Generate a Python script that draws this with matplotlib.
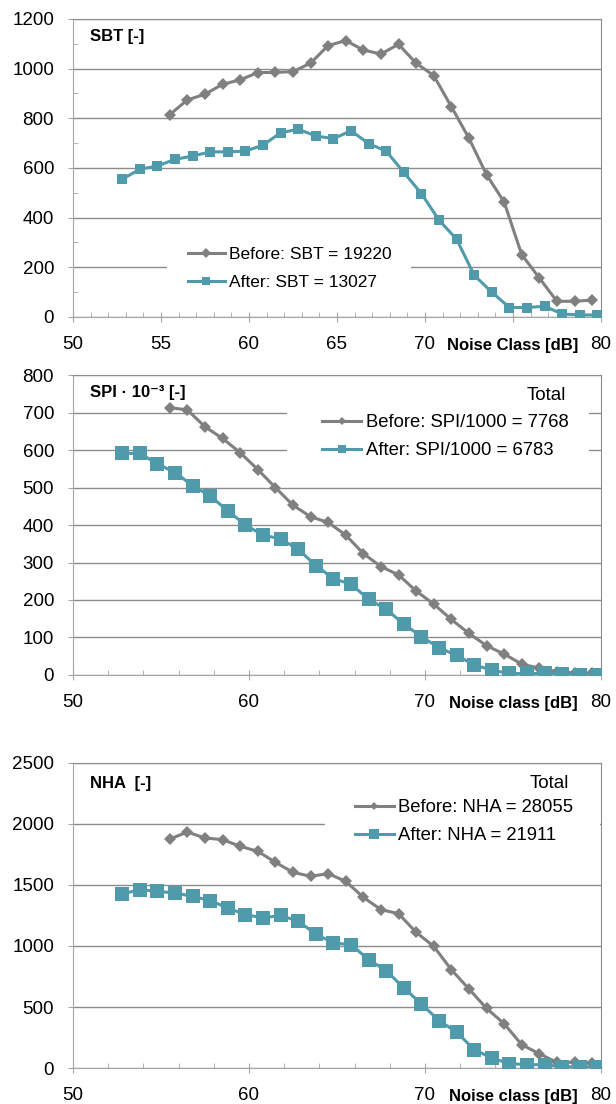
import matplotlib
matplotlib.use("Agg")
import matplotlib.pyplot as plt
from matplotlib.patches import Rectangle
from matplotlib.ticker import MultipleLocator

plt.rcParams["font.family"] = ["Liberation Sans", "DejaVu Sans"]

# -----------------------------------------------------------------------
# Data
# -----------------------------------------------------------------------
x_before = [55.5, 56.5, 57.5, 58.5, 59.5, 60.5, 61.5, 62.5, 63.5, 64.5,
            65.5, 66.5, 67.5, 68.5, 69.5, 70.5, 71.5, 72.5, 73.5, 74.5,
            75.5, 76.5, 77.5, 78.5, 79.5]
x_after = [52.8, 53.8, 54.8, 55.8, 56.8, 57.8, 58.8, 59.8, 60.8, 61.8,
           62.8, 63.8, 64.8, 65.8, 66.8, 67.8, 68.8, 69.8, 70.8, 71.8,
           72.8, 73.8, 74.8, 75.8, 76.8, 77.8, 78.8, 79.8]

sbt_before = [815, 874, 897, 937, 955, 984, 985, 988, 1022, 1093, 1113, 1075,
              1059, 1098, 1022, 972, 847, 720, 573, 463, 251, 157, 63, 63, 68]
sbt_after = [555, 595, 608, 635, 648, 665, 665, 668, 692, 742, 756, 729, 718,
             750, 698, 668, 582, 497, 390, 313, 168, 100, 38, 38, 43, 12, 8, 8]

spi_before = [713, 707, 662, 631, 593, 548, 500, 453, 422, 407, 373, 324, 289,
              267, 224, 189, 148, 111, 78, 56, 29, 18, 9, 6, 4]
spi_after = [591, 591, 563, 540, 505, 477, 438, 400, 373, 363, 335, 292, 257,
             242, 202, 175, 136, 102, 73, 52, 27, 13, 4, 4, 4, 3, 1, 1]

nha_before = [1877, 1934, 1885, 1872, 1817, 1776, 1686, 1604, 1571, 1593, 1530,
              1399, 1298, 1265, 1112, 997, 806, 648, 489, 363, 191, 117, 46, 46, 41]
nha_after = [1426, 1462, 1448, 1434, 1407, 1372, 1311, 1257, 1230, 1251, 1202,
             1098, 1025, 1011, 888, 798, 656, 525, 388, 295, 150, 82, 36, 27,
             27, 10, 10, 10]

BEFORE_C = "#808080"
AFTER_C = "#4f9bab"
GRID_C = "#8c8c8c"
AXIS_C = "#a6a6a6"


def style_axes(ax, ymax, ystep, xmajor, xminor, yminor=None, xlabel="Noise class [dB]"):
    ax.set_xlim(50, 80)
    ax.set_ylim(0, ymax)
    ax.yaxis.set_major_locator(MultipleLocator(ystep))
    ax.xaxis.set_major_locator(MultipleLocator(xmajor))
    ax.xaxis.set_minor_locator(MultipleLocator(xminor))
    if yminor:
        ax.yaxis.set_minor_locator(MultipleLocator(yminor))
    ax.grid(axis="y", which="major", color=GRID_C, linewidth=1.0)
    ax.set_axisbelow(True)
    for side in ("left", "bottom"):
        ax.spines[side].set_color(AXIS_C)
    for side in ("top", "right"):
        ax.spines[side].set_color(GRID_C)
    ax.tick_params(axis="x", which="major", direction="inout", length=7,
                   color=AXIS_C, labelsize=13.5, pad=10.5)
    ax.tick_params(axis="x", which="minor", direction="in", length=3.6,
                   color=AXIS_C)
    ax.tick_params(axis="y", which="major", direction="out", length=3.6,
                   color=AXIS_C, labelsize=13.5, pad=10)
    ax.tick_params(axis="y", which="minor", direction="in", length=3.6,
                   color=AXIS_C)
    # the 75 position carries the axis title instead of a number
    ticks = list(ax.get_xticks())
    labels = ["" if abs(t - 75) < 0.01 else f"{t:.0f}" for t in ticks]
    ax.set_xticks(ticks)
    ax.set_xticklabels(labels)
    ax.set_xlim(50, 80)
    ax.annotate(xlabel, xy=(75, 0), xycoords=("data", "axes fraction"),
                xytext=(0, -24), textcoords="offset points",
                ha="center", va="baseline", fontsize=12, fontweight="bold")


def plot_panel(ax, yb, ya, lab_b, lab_a, ms_d, ms_s):
    ax.plot(x_before, yb, "-", color=BEFORE_C, linewidth=2.2, marker="D",
            markersize=ms_d, markeredgewidth=0, label=lab_b, zorder=3)
    ax.plot(x_after, ya, "-", color=AFTER_C, linewidth=2.2, marker="s",
            markersize=ms_s, markeredgewidth=0, label=lab_a, zorder=3)


def legend_box(ax, x0, y0, x1, y1):
    # white legend area that hides the gridlines behind it
    ax.add_patch(Rectangle((x0, y0), x1 - x0, y1 - y0, transform=ax.transAxes,
                           facecolor="white", edgecolor="none", zorder=1))


def add_legend(ax, anchor, size, spacing, mscale):
    ax.legend(loc="center left", bbox_to_anchor=anchor, fontsize=size,
              frameon=False, handlelength=2.1, handletextpad=0.25,
              labelspacing=spacing, borderpad=0, borderaxespad=0,
              markerscale=mscale)


fig = plt.figure(figsize=(6.16, 11.04), dpi=100)

# --- SBT ---
ax1 = fig.add_axes([0.1185, 0.7129, 0.857, 0.2699])
plot_panel(ax1, sbt_before, sbt_after, "Before: SBT = 19220",
           "After: SBT = 13027", 6.5, 6.8)
style_axes(ax1, 1200, 200, 5, 1, yminor=100, xlabel="Noise Class [dB]")
ax1.text(0.032, 0.94, "SBT [-]", transform=ax1.transAxes, fontsize=12,
         fontweight="bold", va="center", ha="left")
legend_box(ax1, 0.178, 0.040, 0.640, 0.292)
add_legend(ax1, (0.218, 0.163), 12.5, 0.7, 0.8)

# --- SPI ---
ax2 = fig.add_axes([0.1185, 0.3886, 0.857, 0.2717])
plot_panel(ax2, spi_before, spi_after, "Before: SPI/1000 = 7768",
           "After: SPI/1000 = 6783", 6.3, 9.6)
style_axes(ax2, 800, 100, 10, 2)
ax2.text(0.032, 0.943, "SPI · 10⁻³ [-]", transform=ax2.transAxes, fontsize=12,
         fontweight="bold", va="center", ha="left")
legend_box(ax2, 0.405, 0.667, 0.977, 0.917)
add_legend(ax2, (0.472, 0.795), 13.3, 0.6, 0.65)
ax2.text(0.934, 0.933, "Total", transform=ax2.transAxes, fontsize=13.5,
         ha="right", va="center")

# --- NHA ---
ax3 = fig.add_axes([0.1185, 0.0326, 0.857, 0.2763])
plot_panel(ax3, nha_before, nha_after, "Before: NHA = 28055",
           "After: NHA = 21911", 6.3, 10.2)
style_axes(ax3, 2500, 500, 10, 2)
ax3.text(0.032, 0.934, "NHA  [-]", transform=ax3.transAxes, fontsize=12,
         fontweight="bold", va="center", ha="left")
legend_box(ax3, 0.477, 0.715, 0.998, 0.879)
add_legend(ax3, (0.534, 0.808), 13.3, 0.6, 0.65)
ax3.text(0.939, 0.934, "Total", transform=ax3.transAxes, fontsize=13.5,
         ha="right", va="center")

fig.savefig("out.png", dpi=100)
